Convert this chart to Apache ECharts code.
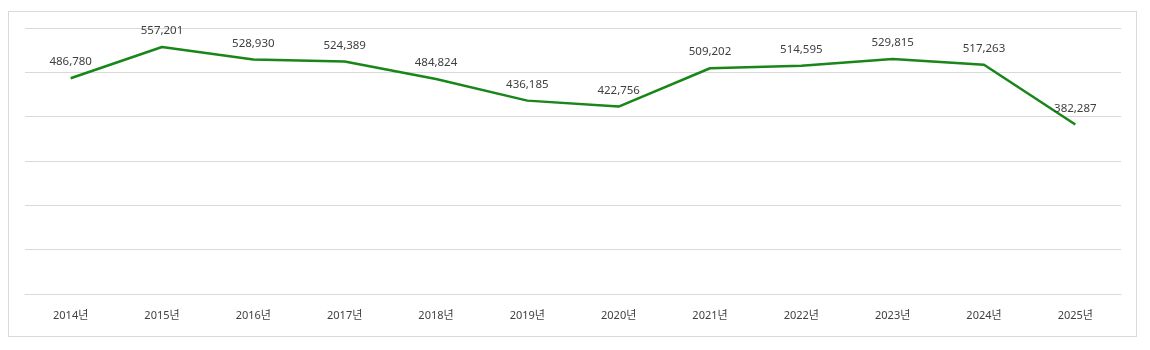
<!DOCTYPE html>
<html>
<head>
<meta charset="utf-8">
<script src="https://cdn.jsdelivr.net/npm/echarts@6/dist/echarts.min.js"></script>
<style>
  html, body { margin: 0; padding: 0; background: #ffffff; }
  #frame { position: absolute; left: 8px; top: 11px; width: 1129px; height: 326px; border: 1px solid #d9d9d9; box-sizing: border-box; }
  #chart { position: absolute; left: 0; top: 0; width: 1150px; height: 350px; }
</style>
</head>
<body>
<div id="frame"></div>
<div id="chart"></div>
<script>
// Yearly totals
const years = ['2014년', '2015년', '2016년', '2017년', '2018년', '2019년', '2020년', '2021년', '2022년', '2023년', '2024년', '2025년'];
const totals = [486780, 557201, 528930, 524389, 484824, 436185, 422756, 509202, 514595, 529815, 517263, 382287];

const font = '"Noto Sans", "Noto Sans CJK KR", sans-serif';
const chart = echarts.init(document.getElementById('chart'));
chart.setOption({
  animation: false,
  grid: { left: 25, right: 29, top: 28, bottom: 56 },
  xAxis: {
    type: 'category',
    data: years,
    boundaryGap: true,
    axisLine: { show: true, lineStyle: { color: '#d9d9d9', width: 1 } },
    axisTick: { show: false },
    axisLabel: { color: '#404040', fontSize: 11, fontFamily: font, margin: 16 }
  },
  yAxis: {
    type: 'value',
    min: 0,
    max: 600000,
    interval: 100000,
    axisLabel: { show: false },
    axisLine: { show: false },
    axisTick: { show: false },
    splitLine: { lineStyle: { color: '#d9d9d9', width: 1 } }
  },
  series: [{
    type: 'line',
    data: totals,
    showSymbol: true,
    symbol: 'circle',
    symbolSize: 1,
    itemStyle: { color: 'rgba(0,0,0,0)' },
    lineStyle: { color: '#188618', width: 2.5 },
    label: {
      show: true,
      position: 'top',
      distance: 10,
      color: '#404040',
      fontSize: 11.5,
      fontFamily: font,
      formatter: p => p.value.toLocaleString('en-US')
    }
  }]
});
</script>
</body>
</html>
